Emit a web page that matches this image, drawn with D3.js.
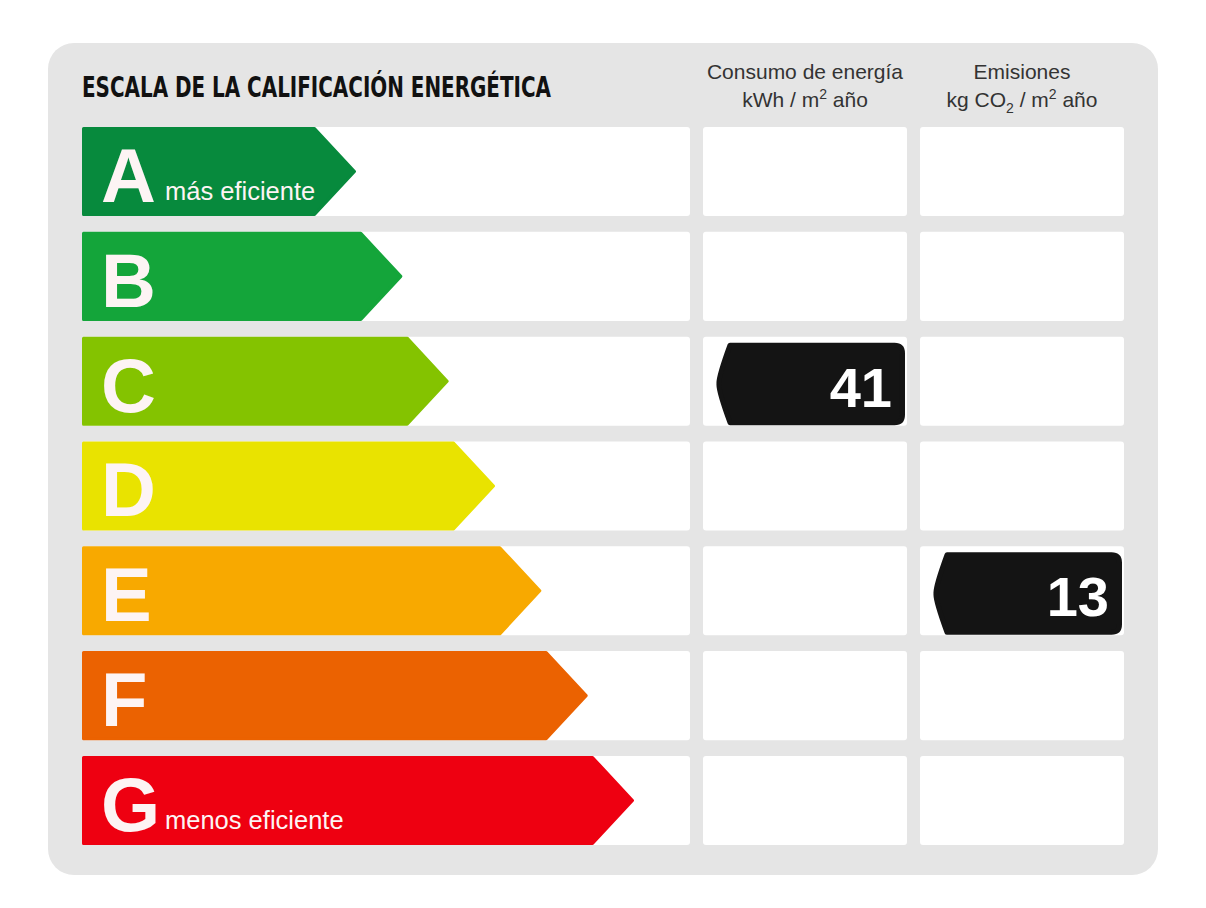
<!DOCTYPE html>
<html>
<head>
<meta charset="utf-8">
<script src="https://cdn.jsdelivr.net/npm/d3@7"></script>
<style>
  html, body { margin: 0; padding: 0; background: #fff; }
</style>
</head>
<body>
<div id="graphDiv"></div>
<script>
// energy label classes, top (best) to bottom (worst)
var classes = ["A", "B", "C", "D", "E", "F", "G"];
var classNotes = ["más eficiente", "", "", "", "", "", "menos eficiente"];
var classColors = ["#078a3d", "#14a53a", "#84c300", "#e9e300", "#f8a900", "#eb6201", "#ee0011"];

// the two columns and the value that sits in each one
var columns = ["energia", "emisiones"];
var columnTitles = ["Consumo de energía", "Emisiones"];
var values = [41, 13];
var valueClass = ["C", "E"];

var outerWidth = 1206,
    outerHeight = 908;

var svg = d3.select("#graphDiv")
    .append("svg")
    .attr("width", outerWidth)
    .attr("height", outerHeight);

// grey panel behind everything
svg.append("rect")
    .attr("x", 48).attr("y", 43)
    .attr("width", 1110).attr("height", 832)
    .attr("rx", 26)
    .attr("fill", "#e5e5e5");

// rows
var y = d3.scaleBand()
    .domain(classes)
    .range([127, 845])
    .paddingInner(0.15)
    .paddingOuter(0);

// arrow tip grows one step per class
var tip = d3.scaleLinear()
    .domain([0, classes.length - 1])
    .range([356, 634]);

// columns for the values
var col = d3.scaleBand()
    .domain(columns)
    .range([703, 1124])
    .paddingInner(0.06);

var fontMain = "'Liberation Sans', Arial, Helvetica, sans-serif";

// title
svg.append("text")
    .attr("x", 82).attr("y", 97)
    .attr("textLength", 469)
    .attr("lengthAdjust", "spacingAndGlyphs")
    .style("font-family", "'Liberation Sans Narrow', 'DejaVu Sans Condensed', " + fontMain)
    .style("font-weight", "bold")
    .style("font-size", "29px")
    .attr("fill", "#111")
    .text("ESCALA DE LA CALIFICACIÓN ENERGÉTICA");

// column headers
var head = svg.selectAll(".head")
    .data(columns)
    .enter()
    .append("text")
    .attr("class", "head")
    .attr("text-anchor", "middle")
    .attr("x", function(d) { return col(d) + col.bandwidth() / 2; })
    .style("font-family", fontMain)
    .style("font-size", "21px")
    .attr("fill", "#333");

head.append("tspan")
    .attr("x", function(d) { return col(d) + col.bandwidth() / 2; })
    .attr("y", 79)
    .text(function(d, i) { return columnTitles[i]; });

// second header line with super/subscripts
var l2 = head.append("tspan")
    .attr("x", function(d) { return col(d) + col.bandwidth() / 2; })
    .attr("y", 107);
l2.each(function(d) {
  var t = d3.select(this);
  if (d === "energia") {
    t.append("tspan").text("kWh / m");
    t.append("tspan").attr("dy", -8).style("font-size", "14px").text("2");
    t.append("tspan").attr("dy", 8).text(" año");
  } else {
    t.append("tspan").text("kg CO");
    t.append("tspan").attr("dy", 6).style("font-size", "14px").text("2");
    t.append("tspan").attr("dy", -6).text(" / m");
    t.append("tspan").attr("dy", -8).style("font-size", "14px").text("2");
    t.append("tspan").attr("dy", 8).text(" año");
  }
});

// white row backgrounds
svg.selectAll(".rowbg")
    .data(classes)
    .enter()
    .append("rect")
    .attr("class", "rowbg")
    .attr("x", 82)
    .attr("y", function(d) { return y(d); })
    .attr("width", 608)
    .attr("height", y.bandwidth())
    .attr("rx", 3)
    .attr("fill", "#fff");

// white value cells
columns.forEach(function(c) {
  svg.selectAll(".cell-" + c)
      .data(classes)
      .enter()
      .append("rect")
      .attr("x", col(c))
      .attr("y", function(d) { return y(d); })
      .attr("width", col.bandwidth())
      .attr("height", y.bandwidth())
      .attr("rx", 3)
      .attr("fill", "#fff");
});

// coloured arrows
var depth = 40;
svg.selectAll(".arrow")
    .data(classes)
    .enter()
    .append("path")
    .attr("class", "arrow")
    .attr("fill", function(d, i) { return classColors[i]; })
    .attr("stroke", function(d, i) { return classColors[i]; })
    .attr("stroke-width", 3)
    .attr("stroke-linejoin", "round")
    .attr("d", function(d, i) {
      var x0 = 83.5, y0 = y(d) + 1.5, y1 = y(d) + y.bandwidth() - 1.5, xt = tip(i) - 1.5;
      var p = d3.path();
      p.moveTo(x0, y0);
      p.lineTo(xt - depth, y0);
      p.lineTo(xt, (y0 + y1) / 2);
      p.lineTo(xt - depth, y1);
      p.lineTo(x0, y1);
      p.closePath();
      return p.toString();
    });

// big letters
svg.selectAll(".letter")
    .data(classes)
    .enter()
    .append("text")
    .attr("class", "letter")
    .attr("x", 101)
    .attr("y", function(d) { return y(d) + 75; })
    .style("font-family", fontMain)
    .style("font-weight", "bold")
    .style("font-size", "76px")
    .attr("fill", "#fdf4f4")
    .text(function(d) { return d; });

// notes next to A and G
svg.selectAll(".note")
    .data(classes)
    .enter()
    .append("text")
    .attr("class", "note")
    .attr("x", 165)
    .attr("y", function(d) { return y(d) + 73; })
    .style("font-family", fontMain)
    .style("font-size", "25.5px")
    .attr("fill", "#fdf4f4")
    .text(function(d, i) { return classNotes[i]; });

// black value markers
var mk = svg.selectAll(".marker")
    .data(values)
    .enter()
    .append("g")
    .attr("class", "marker");

mk.append("path")
    .attr("fill", "#141414")
    .attr("stroke", "#141414")
    .attr("stroke-width", 5)
    .attr("stroke-linejoin", "round")
    .attr("d", function(d, i) {
      var c = columns[i];
      var x0 = col(c) + 16, x1 = col(c) + col.bandwidth() - 4.5;
      var y0 = y(valueClass[i]) + 8.5, y1 = y(valueClass[i]) + y.bandwidth() - 3;
      var r = 8;
      var p = d3.path();
      p.moveTo(x0 + 11, y0);
      p.lineTo(x1 - r, y0);
      p.quadraticCurveTo(x1, y0, x1, y0 + r);
      p.lineTo(x1, y1 - r);
      p.quadraticCurveTo(x1, y1, x1 - r, y1);
      p.lineTo(x0 + 11, y1);
      p.quadraticCurveTo(x0 - 1, (y0 + y1) / 2 + 6, x0, (y0 + y1) / 2);
      p.quadraticCurveTo(x0 - 1, (y0 + y1) / 2 - 6, x0 + 11, y0);
      p.closePath();
      return p.toString();
    });

mk.append("text")
    .attr("text-anchor", "end")
    .attr("x", function(d, i) { return col(columns[i]) + col.bandwidth() - 15; })
    .attr("y", function(d, i) { return y(valueClass[i]) + 70; })
    .style("font-family", fontMain)
    .style("font-weight", "bold")
    .style("font-size", "56px")
    .attr("fill", "#fff")
    .text(function(d) { return d; });
</script>
</body>
</html>
